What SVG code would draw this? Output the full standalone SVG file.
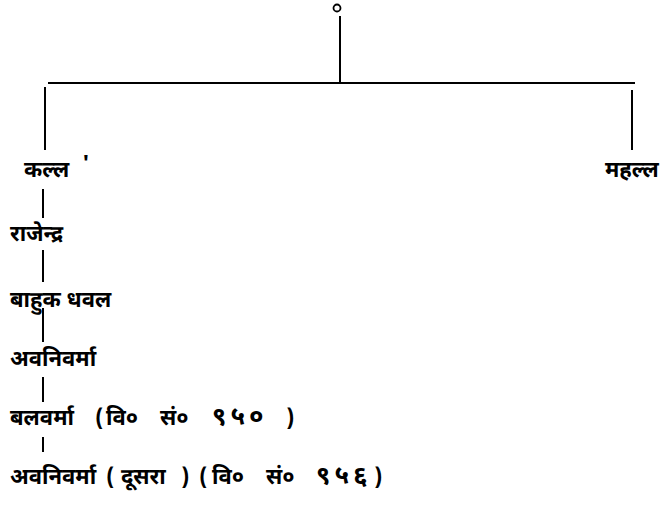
<svg xmlns="http://www.w3.org/2000/svg" width="669" height="513" viewBox="0 0 669 513">
<style>
.t{font-family:"Noto Sans Devanagari","Noto Sans","Lohit Devanagari",sans-serif;font-weight:bold;font-size:22px;fill:#000}
.d{font-size:26px;letter-spacing:4px}
.c{stroke:#000;fill:none;stroke-width:2}
</style>
<rect width="669" height="513" fill="#fff"/>
<g id="connectors">
<line class="c" x1="340" y1="16" x2="340" y2="82"/>
<line class="c" x1="48" y1="83" x2="635" y2="83" stroke-width="3"/>
<line class="c" x1="45" y1="87" x2="45" y2="150"/>
<line class="c" x1="632" y1="90" x2="632" y2="150"/>
<line class="c" x1="43" y1="189" x2="43" y2="218"/>
<line class="c" x1="43" y1="250" x2="43" y2="282"/>
<line class="c" x1="43" y1="308" x2="43" y2="342"/>
<line class="c" x1="43" y1="377" x2="43" y2="402"/>
<line class="c" x1="43" y1="437" x2="43" y2="452" stroke-width="1"/>
</g>
<g id="root"><circle cx="337" cy="8" r="3.5" fill="none" stroke="#000" stroke-width="1.8"/></g>
<g id="kalla"><text class="t" x="24" y="177">कल्ल</text><text class="t" x="82" y="170" font-size="12">'</text></g>
<g id="mahalla"><text class="t" x="605" y="177">महल्ल</text></g>
<g id="rajendra"><text class="t" x="10" y="241">राजेन्द्र</text></g>
<g id="bahuk"><text class="t" x="10" y="307">बाहुक धवल</text></g>
<g id="avani1"><text class="t" x="10" y="366">अवनिवर्मा</text></g>
<g id="bala"><text class="t" y="425"><tspan x="10">बलवर्मा</tspan><tspan x="95">(</tspan><tspan x="106">वि०</tspan><tspan x="160">सं०</tspan><tspan x="212" class="d">९५०</tspan><tspan x="286">)</tspan></text></g>
<g id="avani2"><text class="t" y="484"><tspan x="10">अवनिवर्मा</tspan><tspan x="106">(</tspan><tspan x="121">दूसरा</tspan><tspan x="181">)</tspan><tspan x="199">(</tspan><tspan x="212">वि०</tspan><tspan x="266">सं०</tspan><tspan x="316" class="d">९५६</tspan><tspan x="374">)</tspan></text></g>
</svg>
